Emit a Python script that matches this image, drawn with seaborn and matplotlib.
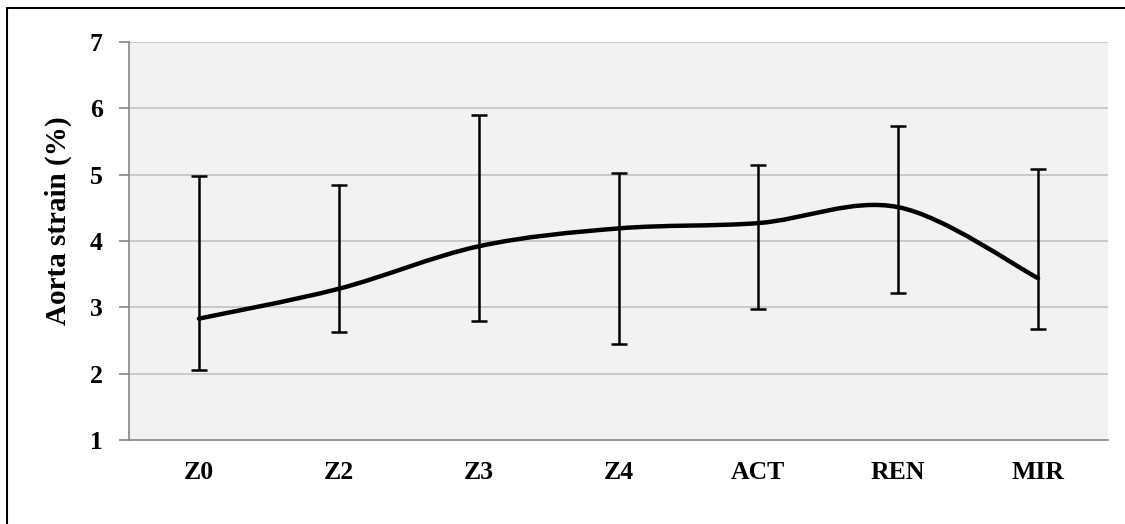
import matplotlib
matplotlib.use("Agg")
import matplotlib.pyplot as plt
from matplotlib.path import Path
from matplotlib.patches import PathPatch, Rectangle
import numpy as np
import seaborn as sns

# data
groups = ["Z0", "Z2", "Z3", "Z4", "ACT", "REN", "MIR"]
strain = [2.83, 3.28, 3.92, 4.19, 4.27, 4.51, 3.44]
upper = [4.98, 4.85, 5.90, 5.03, 5.15, 5.73, 5.08]
lower = [2.05, 2.63, 2.80, 2.45, 2.98, 3.22, 2.67]

sns.set_theme(style="white")
plt.rcParams["font.family"] = ["Liberation Serif", "DejaVu Serif"]
plt.rcParams["font.weight"] = "bold"
plt.rcParams["text.color"] = "black"
plt.rcParams["axes.labelcolor"] = "black"
plt.rcParams["xtick.color"] = "black"
plt.rcParams["ytick.color"] = "black"

fig = plt.figure(figsize=(11.25, 5.24), dpi=100)
fig.patch.set_facecolor("white")
ax = fig.add_axes([129 / 1125, 1 - 440 / 524, 979 / 1125, 398 / 524])
ax.set_facecolor("#F2F2F2")

x = np.arange(len(groups))
y = np.array(strain)

# horizontal gridlines
for v in range(2, 8):
    ax.axhline(v, color="#C6C6C6", lw=1.3, zorder=1)

# error bars (asymmetric)
yerr = [y - np.array(lower), np.array(upper) - y]
ax.errorbar(x, y, yerr=yerr, fmt="none", ecolor="black", elinewidth=1.8,
            capsize=6, capthick=1.8, zorder=3)

# smoothed line, Excel-style Bezier segments (Catmull-Rom tangents)
pts = np.column_stack([x, y])
verts = [tuple(pts[0])]
codes = [Path.MOVETO]
n = len(pts)
for i in range(n - 1):
    p0 = pts[max(i - 1, 0)]
    p1 = pts[i]
    p2 = pts[i + 1]
    p3 = pts[min(i + 2, n - 1)]
    c1 = p1 + (p2 - p0) / 6
    c2 = p2 - (p3 - p1) / 6
    verts += [tuple(c1), tuple(c2), tuple(p2)]
    codes += [Path.CURVE4] * 3
ax.add_patch(PathPatch(Path(verts, codes), facecolor="none", edgecolor="black",
                       lw=3.2, capstyle="round", joinstyle="round", zorder=4))

ax.set_xlim(-0.5, len(groups) - 0.5)
ax.set_ylim(1, 7)
ax.set_xticks(x)
ax.set_xticklabels(groups)
ax.set_yticks(range(1, 8))
ax.tick_params(axis="x", length=0, pad=15, labelsize=18.5, labelcolor="black")
ax.tick_params(axis="y", length=7, width=1.2, color="#868686", direction="out",
               pad=12, labelsize=18.5, left=True, labelcolor="black")
for lab in ax.get_xticklabels() + ax.get_yticklabels():
    lab.set_fontweight("bold")

for side in ["top", "right"]:
    ax.spines[side].set_visible(False)
for side in ["left", "bottom"]:
    ax.spines[side].set_color("#868686")
    ax.spines[side].set_linewidth(1.2)

ax.set_ylabel("Aorta strain (%)", fontsize=21, fontweight="bold", color="black")
ax.yaxis.set_label_coords(-0.058, 0.55)

# outer chart border (only top/left edges fall inside the image)
fig.patches.append(Rectangle((7 / 1125, -0.1), 1.2, 1.1 - 8 / 524,
                             transform=fig.transFigure, fill=False,
                             edgecolor="black", lw=1.5))

fig.savefig("out.png", dpi=100, facecolor="white")
